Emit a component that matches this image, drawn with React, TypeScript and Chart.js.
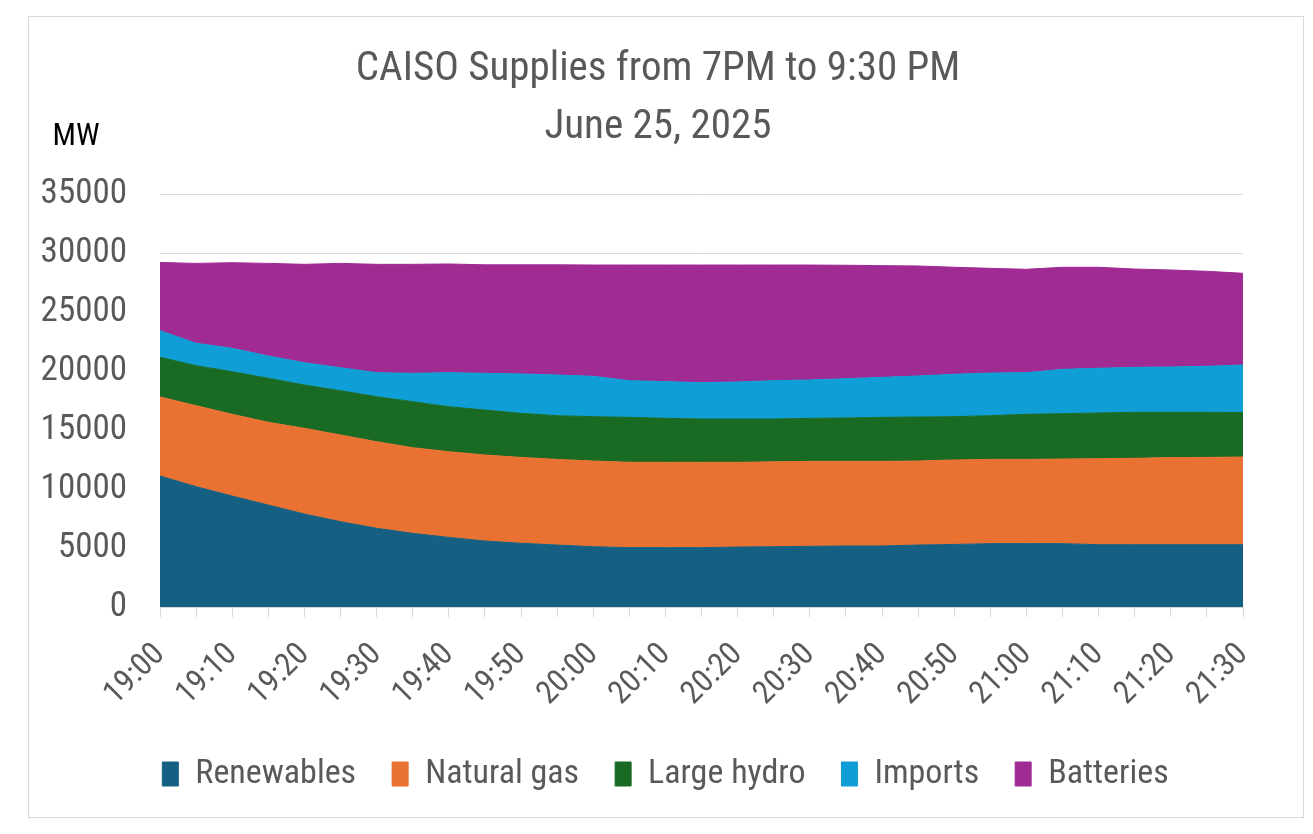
import { useEffect, useRef } from "react"
import Chart from "chart.js/auto"

const times = [
    "19:00", "19:05", "19:10", "19:15", "19:20", "19:25", "19:30", "19:35",
    "19:40", "19:45", "19:50", "19:55", "20:00", "20:05", "20:10", "20:15",
    "20:20", "20:25", "20:30", "20:35", "20:40", "20:45", "20:50", "20:55",
    "21:00", "21:05", "21:10", "21:15", "21:20", "21:25", "21:30",
]

// MW per source (stacked bottom to top)
const renewables = [
    11100, 10200, 9400, 8640, 7880, 7230, 6670, 6240, 5900, 5590, 5400, 5250, 5110, 5030, 5030, 5030,
    5080, 5110, 5140, 5170, 5170, 5250, 5300, 5370, 5370, 5370, 5280, 5280, 5280, 5280, 5280,
]
const naturalGas = [
    6700, 6860, 6930, 7010, 7260, 7350, 7340, 7260, 7260, 7290, 7280, 7260, 7260, 7230, 7230, 7230,
    7180, 7190, 7200, 7170, 7170, 7120, 7160, 7140, 7140, 7170, 7290, 7320, 7380, 7400, 7430,
]
const largeHydro = [
    3360, 3390, 3610, 3730, 3670, 3750, 3810, 3900, 3810, 3810, 3730, 3700, 3760, 3810, 3730, 3670,
    3670, 3630, 3650, 3680, 3730, 3730, 3670, 3700, 3820, 3840, 3870, 3900, 3840, 3820, 3760,
]
const imports = [
    2260, 1900, 1980, 1890, 1890, 1950, 2040, 2400, 2890, 3110, 3340, 3450, 3420, 3110, 3110, 3080,
    3140, 3250, 3250, 3330, 3390, 3480, 3590, 3620, 3530, 3760, 3790, 3810, 3840, 3900, 4040,
]
const batteries = [
    5780, 6770, 7260, 7850, 8340, 8840, 9180, 9240, 9210, 9200, 9250, 9340, 9430, 9800, 9880, 9970,
    9910, 9800, 9740, 9610, 9470, 9320, 9070, 8870, 8760, 8650, 8560, 8330, 8220, 8050, 7770,
]

const seriesNames = ["Renewables", "Natural gas", "Large hydro", "Imports", "Batteries"]
const seriesColors = ["#156082", "#E97132", "#196B24", "#0F9ED5", "#A02B93"]
const titleLines = ["CAISO Supplies from 7PM to 9:30 PM", "June 25, 2025"]

const FONT = "'Liberation Sans Narrow', 'Roboto Condensed', Roboto, sans-serif"
const GREY = "#595959"

const headerPlugin = {
    id: "header",
    beforeDraw(chart: any) {
        // nudge the bottom legend right so it centres like the original
        if (chart.legend) {
            chart.legend.left = 58
            chart.legend.right = 1273
        }
    },
    afterDraw(chart: Chart) {
        const ctx = chart.ctx
        ctx.save()
        ctx.fillStyle = GREY
        ctx.textAlign = "center"
        ctx.textBaseline = "middle"
        ctx.font = `41px ${FONT}`
        ctx.fillText(titleLines[0], 658, 70)
        ctx.fillText(titleLines[1], 658, 128)
        ctx.fillStyle = "#000"
        ctx.font = `31px ${FONT}`
        ctx.fillText("MW", 76, 137)
        ctx.restore()
    },
}

function App() {
    const chartRef = useRef<HTMLCanvasElement>(null)
    const chartInstance = useRef<Chart | null>(null)

    useEffect(() => {
        document.body.style.margin = "0"
        if (!chartRef.current) return
        if (chartInstance.current) chartInstance.current.destroy()

        const values = [renewables, naturalGas, largeHydro, imports, batteries]

        chartInstance.current = new Chart(chartRef.current, {
            type: "line",
            data: {
                labels: times,
                datasets: values.map((data, i) => ({
                    label: seriesNames[i],
                    data,
                    backgroundColor: seriesColors[i],
                    borderColor: seriesColors[i],
                    borderWidth: 1,
                    pointRadius: 0,
                    tension: 0,
                    fill: i === 0 ? "origin" : "-1",
                })),
            },
            options: {
                responsive: false,
                animation: false,
                layout: { padding: { left: 28, right: 70, top: 194, bottom: 33 } },
                plugins: {
                    title: { display: false },
                    tooltip: { enabled: false },
                    legend: {
                        position: "bottom",
                        labels: {
                            boxWidth: 16,
                            boxHeight: 24,
                            padding: 36,
                            color: GREY,
                            font: { family: FONT, size: 34 },
                        },
                    },
                },
                scales: {
                    x: {
                        offset: false,
                        afterFit: (scale: any) => {
                            scale.height = 114
                        },
                        grid: { drawOnChartArea: false, color: "#d9d9d9", tickLength: 10 },
                        border: { color: "#d9d9d9" },
                        ticks: {
                            autoSkip: false,
                            maxRotation: 45,
                            minRotation: 45,
                            padding: 19,
                            color: GREY,
                            font: { family: FONT, size: 32 },
                            callback: (_v: any, i: number) => (i % 2 === 0 ? times[i] : ""),
                        },
                    },
                    y: {
                        stacked: true,
                        min: 0,
                        max: 35000,
                        afterFit: (scale: any) => {
                            scale.width = 132
                        },
                        grid: { color: "#d9d9d9", drawTicks: false },
                        border: { display: false },
                        ticks: {
                            stepSize: 5000,
                            padding: 33,
                            color: GREY,
                            font: { family: FONT, size: 35 },
                            callback: (v: any) => String(v),
                        },
                    },
                },
            },
            plugins: [headerPlugin],
        })

        return () => {
            chartInstance.current?.destroy()
        }
    }, [])

    return (
        <div style={{ position: "relative", width: 1313, height: 834, background: "#fff" }}>
            <div
                style={{
                    position: "absolute",
                    left: 28,
                    top: 16,
                    width: 1274,
                    height: 800,
                    border: "1.5px solid #d9d9d9",
                }}
            ></div>
            <canvas ref={chartRef} width={1313} height={834} style={{ position: "absolute", left: 0, top: 0 }}></canvas>
        </div>
    )
}

export default App
